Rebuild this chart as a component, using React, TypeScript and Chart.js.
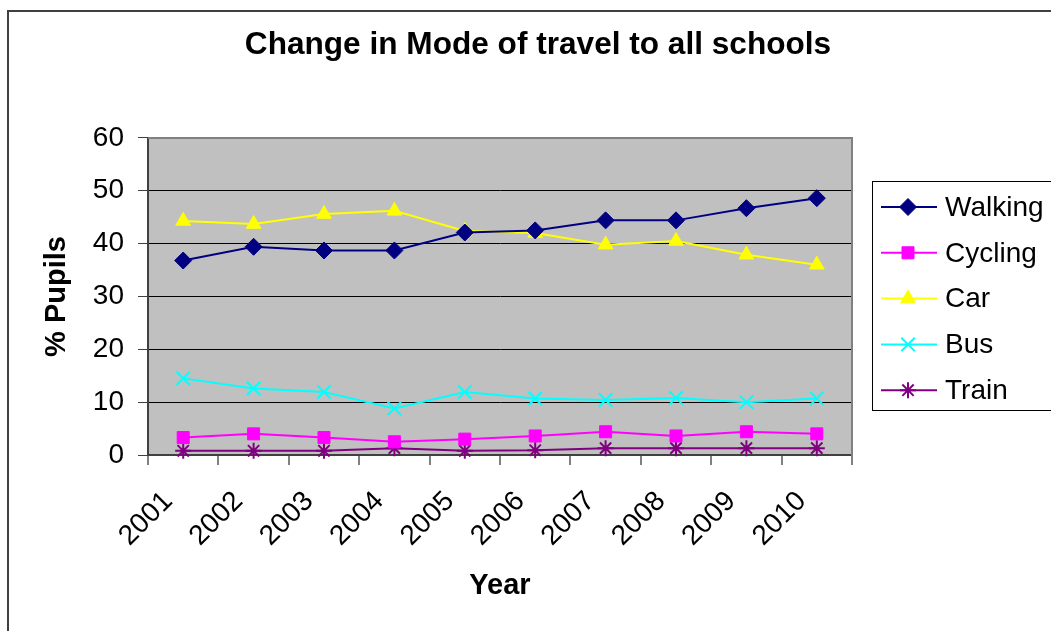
import React, { useEffect, useRef } from "react";
import { Chart, registerables } from "chart.js";
import { drawPoint } from "chart.js/helpers";

Chart.register(...registerables);

const years = ["2001", "2002", "2003", "2004", "2005", "2006", "2007", "2008", "2009", "2010"];
const walking = [36.8, 39.4, 38.7, 38.7, 42.1, 42.5, 44.4, 44.4, 46.7, 48.6];
const cycling = [3.3, 4.0, 3.3, 2.5, 3.0, 3.6, 4.4, 3.6, 4.4, 4.0];
const car = [44.3, 43.7, 45.6, 46.2, 42.4, 42.0, 39.8, 40.5, 37.9, 36.0];
const bus = [14.5, 12.6, 11.9, 8.8, 11.9, 10.7, 10.4, 10.8, 10.0, 10.7];
const train = [0.8, 0.8, 0.8, 1.3, 0.8, 0.9, 1.3, 1.3, 1.3, 1.3];
const yMin = 0;
const yMax = 60;
const yStep = 10;

const chartTitle = "Change in Mode of travel to all schools";
const xTitle = "Year";
const yTitle = "% Pupils";

type SeriesStyle = {
  label: string;
  data: number[];
  color: string;
  pointStyle: string;
  radius: number;
  pointBorderWidth: number;
};

const series: SeriesStyle[] = [
  { label: "Walking", data: walking, color: "#000080", pointStyle: "rectRot", radius: 8.5, pointBorderWidth: 1 },
  { label: "Cycling", data: cycling, color: "#FF00FF", pointStyle: "rect", radius: 8.5, pointBorderWidth: 1 },
  { label: "Car", data: car, color: "#FFFF00", pointStyle: "triangle", radius: 8.5, pointBorderWidth: 1 },
  { label: "Bus", data: bus, color: "#00FFFF", pointStyle: "crossRot", radius: 9.5, pointBorderWidth: 2 },
  { label: "Train", data: train, color: "#800080", pointStyle: "star", radius: 8, pointBorderWidth: 2 },
];

const FONT = "Arial, 'Liberation Sans', sans-serif";

const decorPlugin = {
  id: "decor",
  beforeDraw(chart: any) {
    const { ctx, chartArea } = chart;
    ctx.save();
    ctx.fillStyle = "#C0C0C0";
    ctx.fillRect(chartArea.left, chartArea.top, chartArea.right - chartArea.left, chartArea.bottom - chartArea.top);
    ctx.restore();
  },
  afterDraw(chart: any) {
    const { ctx, chartArea } = chart;
    ctx.save();
    // plot border top and right (gray)
    ctx.strokeStyle = "#808080";
    ctx.lineWidth = 2;
    ctx.beginPath();
    ctx.moveTo(chartArea.left, chartArea.top);
    ctx.lineTo(chartArea.right, chartArea.top);
    ctx.lineTo(chartArea.right, chartArea.bottom + 10);
    ctx.stroke();

    // legend
    const lx = chartArea.right + 20;
    const ly = 181;
    const lh = 229;
    ctx.strokeStyle = "#000";
    ctx.lineWidth = 1;
    ctx.strokeRect(lx + 0.5, ly + 0.5, 300, lh);
    ctx.font = `28px ${FONT}`;
    ctx.textBaseline = "middle";
    ctx.textAlign = "left";
    series.forEach((s, i) => {
      const y = ly + 26 + i * 45.8;
      ctx.strokeStyle = s.color;
      ctx.lineWidth = 2;
      ctx.beginPath();
      ctx.moveTo(lx + 9, y);
      ctx.lineTo(lx + 65, y);
      ctx.stroke();
      ctx.fillStyle = s.color;
      ctx.strokeStyle = s.color;
      ctx.lineWidth = s.pointBorderWidth;
      drawPoint(ctx, { pointStyle: s.pointStyle as any, radius: s.radius, rotation: 0, borderWidth: s.pointBorderWidth }, lx + 36, y);
      ctx.fillStyle = "#000";
      ctx.fillText(s.label, lx + 73, y + 1);
    });
    ctx.restore();
  },
};

export default function App() {
  const canvasRef = useRef<HTMLCanvasElement | null>(null);

  useEffect(() => {
    if (!canvasRef.current) return;
    const chart = new Chart(canvasRef.current, {
      type: "line",
      data: {
        labels: years,
        datasets: series.map((s) => ({
          label: s.label,
          data: s.data,
          borderColor: s.color,
          backgroundColor: s.color,
          borderWidth: 2,
          pointStyle: s.pointStyle as any,
          pointRadius: s.radius,
          pointHoverRadius: s.radius,
          pointBorderWidth: s.pointBorderWidth,
          pointBackgroundColor: s.color,
          pointBorderColor: s.color,
          tension: 0,
          fill: false,
          clip: false as any,
          yAxisID: "y",
        })),
      },
      options: {
        animation: false,
        responsive: false,
        devicePixelRatio: 1,
        layout: { padding: { left: 25, right: 0, top: 0, bottom: 0 } },
        plugins: {
          legend: { display: false },
          tooltip: { enabled: false },
          title: {
            display: true,
            text: chartTitle,
            color: "#000",
            font: { family: FONT, size: 31.6, weight: "bold" },
            padding: { top: 26.5, bottom: 73.5 },
          },
        },
        scales: {
          x: {
            type: "category",
            offset: true,
            grid: {
              display: true,
              drawOnChartArea: false,
              drawTicks: true,
              tickLength: 10,
              color: "#808080",
              lineWidth: 2,
              offset: true,
            },
            border: { display: true, color: "#404040", width: 2 },
            ticks: {
              color: "#000",
              font: { family: FONT, size: 28 },
              minRotation: 45,
              maxRotation: 45,
              autoSkip: false,
              padding: 20,
              labelOffset: -15,
            },
            title: {
              display: true,
              text: xTitle,
              color: "#000",
              font: { family: FONT, size: 29, weight: "bold" },
              padding: { top: 0, bottom: 27.6 },
            },
            afterFit(scale: any) {
              scale.height = 176;
            },
          },
          y: {
            min: yMin,
            max: yMax,
            ticks: {
              stepSize: yStep,
              color: "#000",
              font: { family: FONT, size: 28 },
              padding: 14,
            },
            grid: {
              color: "#000",
              lineWidth: 1,
              drawTicks: true,
              tickLength: 10,
              tickColor: "#404040",
            },
            border: { display: true, color: "#404040", width: 2 },
            title: {
              display: true,
              text: yTitle,
              color: "#000",
              font: { family: FONT, size: 29, weight: "bold" },
              padding: { top: 15, bottom: 0 },
            },
            afterFit(scale: any) {
              scale.width = 123;
            },
          },
          yRight: {
            position: "right",
            display: true,
            min: yMin,
            max: yMax,
            grid: { display: false, drawTicks: false },
            border: { display: false },
            ticks: { display: false },
            afterFit(scale: any) {
              scale.width = 199;
            },
          },
        },
      },
      plugins: [decorPlugin],
    });
    return () => chart.destroy();
  }, []);

  return (
    <div
      style={{
        position: "fixed",
        left: 0,
        top: 0,
        width: 1051,
        height: 631,
        overflow: "hidden",
        background: "#fff",
      }}
    >
      <canvas ref={canvasRef} width={1051} height={631} style={{ position: "absolute", left: 0, top: 0, width: 1051, height: 631 }} />
      <div
        style={{
          position: "absolute",
          left: 7,
          top: 10,
          width: 1100,
          height: 700,
          border: "2px solid #404040",
          pointerEvents: "none",
        }}
      />
    </div>
  );
}
